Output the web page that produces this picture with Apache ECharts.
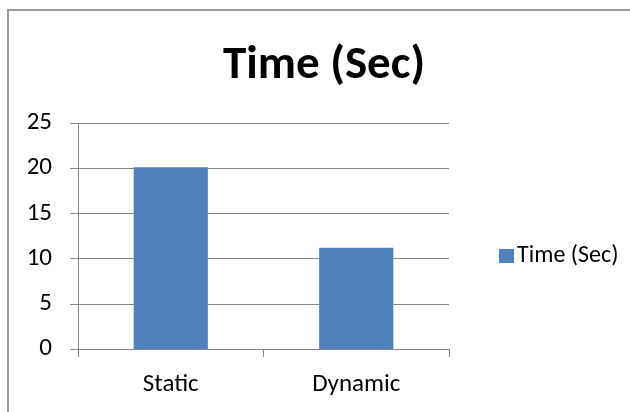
<!DOCTYPE html>
<html>
<head>
<meta charset="utf-8">
<style>
  html, body { margin: 0; padding: 0; background: #ffffff; }
  #chart { width: 630px; height: 412px; }
</style>
<script src="https://cdn.jsdelivr.net/npm/echarts@6/dist/echarts.min.js"></script>
</head>
<body>
<div id="chart"></div>
<script>
// Execution time per approach
const chartTitle = 'Time (Sec)';
const seriesName = 'Time (Sec)';
const categories = ['Static', 'Dynamic'];
const timeValues = [20.1, 11.2];
const yTicks = [0, 5, 10, 15, 20, 25];

const font = 'Carlito, "Open Sans", "Noto Sans", sans-serif';
const axisGray = '#868686';

const chart = echarts.init(document.getElementById('chart'), null, { renderer: 'canvas' });

chart.setOption({
  backgroundColor: '#ffffff',
  animation: false,
  title: {
    text: chartTitle,
    left: 319,
    top: 38,
    textAlign: 'center',
    textStyle: {
      fontFamily: font,
      fontWeight: 'bold',
      fontSize: 47,
      color: '#000000'
    }
  },
  legend: {
    data: [seriesName],
    left: 494,
    top: 239,
    orient: 'vertical',
    icon: 'rect',
    itemWidth: 15,
    itemHeight: 14,
    itemGap: 6,
    textStyle: {
      fontFamily: font,
      fontSize: 24,
      color: '#000000',
      padding: [0, 0, 0, -2]
    }
  },
  grid: {
    left: 78,
    right: 181,
    top: 123,
    bottom: 63,
    containLabel: false
  },
  xAxis: {
    type: 'category',
    data: categories,
    boundaryGap: true,
    axisLine: { show: true, lineStyle: { color: axisGray, width: 1 } },
    axisTick: { show: true, alignWithLabel: false, length: 8, lineStyle: { color: axisGray } },
    axisLabel: {
      margin: 23,
      fontFamily: font,
      fontSize: 25,
      color: '#000000'
    },
    splitLine: { show: false }
  },
  yAxis: {
    type: 'value',
    min: yTicks[0],
    max: yTicks[yTicks.length - 1],
    interval: yTicks[1] - yTicks[0],
    axisLine: { show: true, lineStyle: { color: axisGray, width: 1 } },
    axisTick: { show: true, length: 8, lineStyle: { color: axisGray } },
    axisLabel: {
      margin: 26,
      fontFamily: font,
      fontSize: 25,
      color: '#000000'
    },
    splitLine: { show: true, lineStyle: { color: axisGray, width: 1 } }
  },
  series: [{
    name: seriesName,
    type: 'bar',
    data: timeValues,
    barWidth: '40%',
    itemStyle: { color: '#4F81BD' }
  }],
  graphic: [{
    type: 'polyline',
    silent: true,
    shape: { points: [[8, 412], [8, 10], [630, 10]] },
    style: { stroke: '#9a9a9a', lineWidth: 2, fill: null }
  }]
});
</script>
</body>
</html>
